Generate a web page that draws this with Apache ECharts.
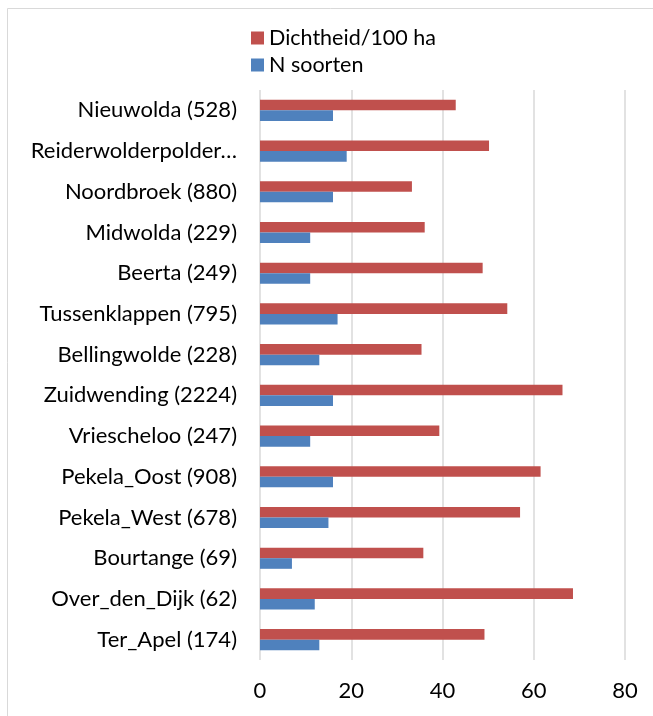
<!DOCTYPE html>
<html>
<head>
<meta charset="utf-8">
<script src="https://cdn.jsdelivr.net/npm/echarts@6/dist/echarts.min.js"></script>
<style>html,body{margin:0;padding:0;background:#fff;}#c{width:653px;height:716px;}</style>
</head>
<body>
<div id="c"></div>
<script>
const categories = ["Nieuwolda (528)", "Reiderwolderpolder…", "Noordbroek (880)", "Midwolda (229)", "Beerta (249)", "Tussenklappen (795)", "Bellingwolde (228)", "Zuidwending (2224)", "Vriescheloo (247)", "Pekela_Oost (908)", "Pekela_West (678)", "Bourtange (69)", "Over_den_Dijk (62)", "Ter_Apel (174)"];
const dichtheid = [42.9, 50.2, 33.3, 36.1, 48.8, 54.2, 35.4, 66.3, 39.3, 61.5, 57.0, 35.8, 68.6, 49.2];
const nSoorten = [16, 19, 16, 11, 11, 17, 13, 16, 11, 16, 15, 7, 12, 13];
const xTicks = [0, 20, 40, 60, 80];
const seriesNames = ["Dichtheid/100 ha", "N soorten"];

const FONT = "Lato";
const chart = echarts.init(document.getElementById('c'), null, {renderer: 'canvas'});
chart.setOption({
  animation: false,
  backgroundColor: '#fff',
  graphic: [{
    type: 'rect', silent: true,
    shape: {x: 7.5, y: 8.5, width: 700, height: 760},
    style: {fill: 'none', stroke: '#d9d9d9', lineWidth: 1}
  }],
  legend: {
    top: 22, left: 246, orient: 'vertical',
    itemWidth: 13, itemHeight: 13, itemGap: 5,
    icon: 'rect',
    textStyle: {fontFamily: FONT, fontSize: 21.5, color: '#000'},
    data: seriesNames
  },
  grid: {left: 260, right: 28, top: 90, bottom: 56, containLabel: false},
  xAxis: {
    type: 'value', min: xTicks[0], max: xTicks[xTicks.length - 1], interval: 20,
    axisLine: {show: false}, axisTick: {show: false},
    axisLabel: {fontFamily: FONT, fontSize: 22, color: '#000', margin: 20},
    splitLine: {lineStyle: {color: '#d9d9d9', width: 1.5}}
  },
  yAxis: {
    type: 'category', data: categories, inverse: true,
    axisLine: {show: false}, axisTick: {show: false},
    axisLabel: {fontFamily: FONT, fontSize: 22, color: '#000', margin: 23}
  },
  series: [
    {name: seriesNames[0], type: 'bar', data: dichtheid, itemStyle: {color: '#c0504d'}, barGap: '0%', barCategoryGap: '48%'},
    {name: seriesNames[1], type: 'bar', data: nSoorten, itemStyle: {color: '#4f81bd'}, barGap: '0%', barCategoryGap: '48%'}
  ]
});
</script>
</body>
</html>
